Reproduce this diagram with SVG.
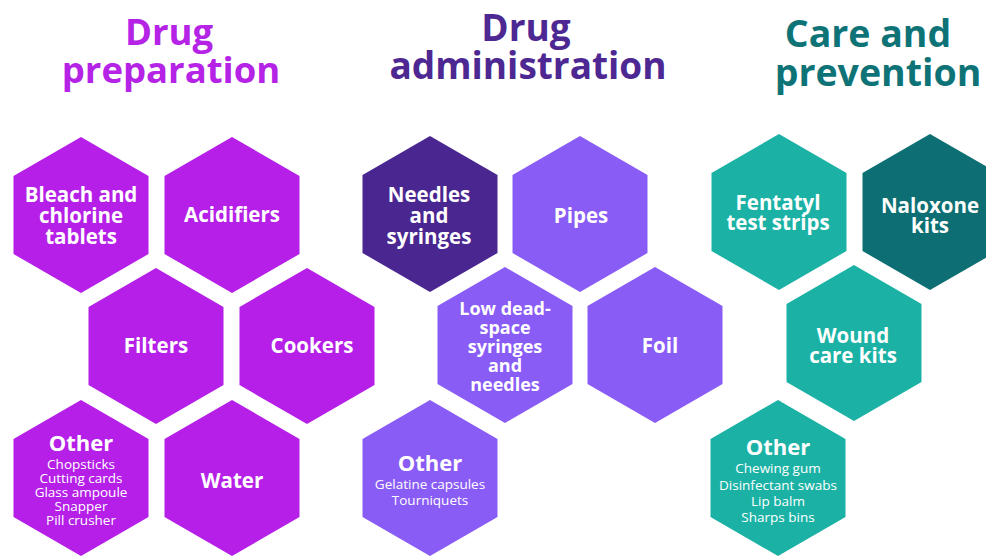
<svg xmlns="http://www.w3.org/2000/svg" width="986" height="556" viewBox="0 0 986 556">
<style>
text{font-family:"Open Sans","Noto Sans","Liberation Sans",sans-serif;text-anchor:middle}
.title{font-weight:700}
.t1{fill:#B423E6;font-size:36.5px}.t2{fill:#4D2893;font-size:37px}.t3{fill:#0E7377;font-size:37.5px}
.lbl{font-weight:700;font-size:20.5px;fill:#fff}
.sm{font-weight:700;font-size:18px;fill:#fff}
.oth{font-weight:700;font-size:22px;fill:#fff}
.item{font-weight:400;font-size:13.5px;fill:#fff}
.prep{fill:#B51FE7}.admD{fill:#4A2690}.adm{fill:#8A5CF6}.care{fill:#1BB2A5}.careD{fill:#0D6F73}
</style>
<defs>
<polygon id="hex" points="0,-78 67.5,-39 67.5,39 0,78 -67.5,39 -67.5,-39"/>
</defs>
<rect width="986" height="556" fill="#fff"/>
<g id="titles">
<text class="title t1" x="169" y="45">Drug</text>
<text class="title t1" x="171" y="83">preparation</text>
<text class="title t2" x="526" y="41">Drug</text>
<text class="title t2" x="528" y="79">administration</text>
<text class="title t3" x="868" y="47">Care and</text>
<text class="title t3" x="878" y="86">prevention</text>
</g>
<g id="connectors"/>
<g id="bleach"><use href="#hex" class="prep" x="81" y="215"/>
<text class="lbl" x="81" y="202">Bleach and</text><text class="lbl" x="81" y="223">chlorine</text><text class="lbl" x="81" y="244">tablets</text></g>
<g id="acidifiers"><use href="#hex" class="prep" x="232" y="215"/>
<text class="lbl" x="232" y="222">Acidifiers</text></g>
<g id="filters"><use href="#hex" class="prep" x="156" y="346"/>
<text class="lbl" x="156" y="353">Filters</text></g>
<g id="cookers"><use href="#hex" class="prep" x="307" y="346"/>
<text class="lbl" x="312" y="353">Cookers</text></g>
<g id="prep-other"><use href="#hex" class="prep" x="81" y="478"/>
<text class="oth" x="81" y="451">Other</text>
<text class="item" x="81" y="469">Chopsticks</text><text class="item" x="81" y="483">Cutting cards</text><text class="item" x="81" y="497">Glass ampoule</text><text class="item" x="81" y="511">Snapper</text><text class="item" x="81" y="525">Pill crusher</text></g>
<g id="water"><use href="#hex" class="prep" x="232" y="478"/>
<text class="lbl" x="232" y="488">Water</text></g>
<g id="needles"><use href="#hex" class="admD" x="430" y="214"/>
<text class="lbl" x="429" y="202">Needles</text><text class="lbl" x="429" y="223">and</text><text class="lbl" x="429" y="244">syringes</text></g>
<g id="pipes"><use href="#hex" class="adm" x="580" y="214"/>
<text class="lbl" x="581" y="223">Pipes</text></g>
<g id="lowdead"><use href="#hex" class="adm" x="505" y="345"/>
<text class="sm" x="505" y="315">Low dead-</text><text class="sm" x="505" y="334">space</text><text class="sm" x="505" y="353">syringes</text><text class="sm" x="505" y="372">and</text><text class="sm" x="505" y="391">needles</text></g>
<g id="foil"><use href="#hex" class="adm" x="655" y="345"/>
<text class="lbl" x="660" y="353">Foil</text></g>
<g id="adm-other"><use href="#hex" class="adm" x="430" y="478"/>
<text class="oth" x="430" y="471">Other</text>
<text class="item" x="430" y="489">Gelatine capsules</text><text class="item" x="430" y="505">Tourniquets</text></g>
<g id="fentanyl"><use href="#hex" class="care" x="779" y="212"/>
<text class="lbl" x="778" y="210">Fentatyl</text><text class="lbl" x="778" y="230">test strips</text></g>
<g id="naloxone"><use href="#hex" class="careD" x="930" y="212"/>
<text class="lbl" x="930" y="213">Naloxone</text><text class="lbl" x="930" y="233">kits</text></g>
<g id="wound"><use href="#hex" class="care" x="854" y="343"/>
<text class="lbl" x="853" y="343">Wound</text><text class="lbl" x="853" y="363">care kits</text></g>
<g id="care-other"><use href="#hex" class="care" x="778" y="478"/>
<text class="oth" x="778" y="455">Other</text>
<text class="item" x="778" y="473">Chewing gum</text><text class="item" x="778" y="490">Disinfectant swabs</text><text class="item" x="778" y="506">Lip balm</text><text class="item" x="778" y="522">Sharps bins</text></g>
</svg>
